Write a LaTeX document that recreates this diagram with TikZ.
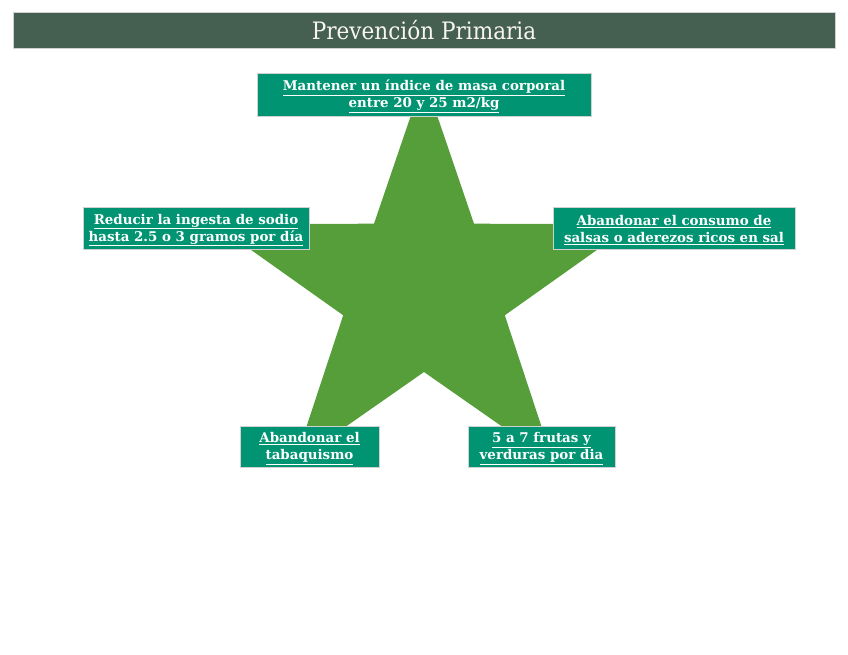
\documentclass[tikz,border=0pt]{standalone}
\usepackage{fontspec}
\setmainfont{DejaVu Serif}
\newfontfamily\boxfont{DejaVu Serif}
\newfontfamily\titlefont{DejaVu Serif Condensed}
\definecolor{titlebg}{RGB}{69,96,80}
\definecolor{boxgreen}{RGB}{0,148,115}
\definecolor{stargreen}{RGB}{85,158,58}
\definecolor{titletext}{RGB}{248,245,236}
\newcommand{\mytopstrut}{\rule{0pt}{14.5pt}}
\tikzset{
  infobox/.style={fill=boxgreen, draw=white!82!black, line width=0.6pt, text=white,
    font=\boxfont\bfseries\fontsize{13.4}{17}\selectfont, align=center, inner sep=0pt},
  titlebar/.style={fill=titlebg, draw=white!82!black, line width=0.6pt, text=titletext,
    font=\titlefont\fontsize{24}{26}\selectfont, inner sep=0pt},
  starshape/.style={fill=stargreen, draw=none}
}
\begin{document}
\begin{tikzpicture}[x=1pt,y=-1pt]
\useasboundingbox (0,0) rectangle (848,655);
% star points
\coordinate (o1) at (424,77);
\coordinate (i1) at (474,223.7);
\coordinate (o2) at (633.2,224.2);
\coordinate (i2) at (504.8,315.3);
\coordinate (o3) at (553.3,462.3);
\coordinate (i3) at (424,372);
\coordinate (o4) at (294.7,462.3);
\coordinate (i4) at (343.2,315.3);
\coordinate (o5) at (214.8,224.2);
\coordinate (i5) at (374,223.7);
\fill[starshape] (o1) -- (i1) -- (o2) -- (i2) -- (o3) -- (i3) -- (o4) -- (i4) -- (o5) -- (i5) -- cycle;
% title
\node[titlebar, minimum width=822pt, minimum height=36pt] (title) at (424,30.3) {Prevención Primaria};
% boxes
\node[infobox, minimum width=334pt, minimum height=43pt] (top) at (424,94.5)
  {\mytopstrut\underline{Mantener un índice de masa corporal}\\\underline{entre 20 y 25 m2/kg}};
\node[infobox, minimum width=226pt, minimum height=42pt] (left) at (196,228)
  {\mytopstrut\underline{Reducir la ingesta de sodio}\\\underline{hasta 2.5 o 3 gramos por día}};
\node[infobox, minimum width=242pt, minimum height=42pt] (right) at (674,228)
  {\mytopstrut\underline{Abandonar el consumo de}\\\underline{salsas o aderezos ricos en sal}};
\node[infobox, minimum width=139pt, minimum height=41pt] (bl) at (309.5,446.5)
  {\mytopstrut\underline{Abandonar el}\\\underline{tabaquismo}};
\node[infobox, minimum width=147pt, minimum height=41pt] (br) at (541.5,446.5)
  {\mytopstrut\underline{5 a 7 frutas y}\\\underline{verduras por dia}};
\end{tikzpicture}
\end{document}
